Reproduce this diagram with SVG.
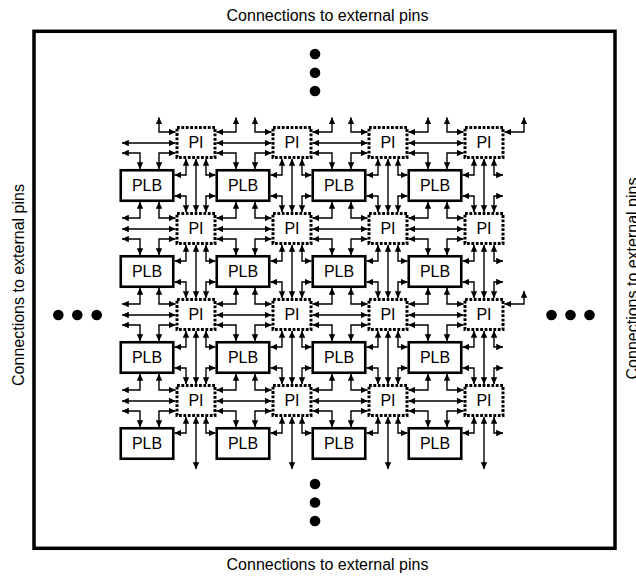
<svg xmlns="http://www.w3.org/2000/svg" width="636" height="576" viewBox="0 0 636 576">
<style>
.t{font-family:"Liberation Sans",Arial,sans-serif;font-size:16px;fill:#000;text-anchor:middle}
.pi{fill:#fff;stroke:#000;stroke-width:3;stroke-dasharray:2.8 1.6}
.plb{fill:#fff;stroke:#000;stroke-width:2.6}
.c path{fill:none;stroke:#000;stroke-width:1.4;marker-start:url(#ah);marker-end:url(#ah)}
.frame{fill:none;stroke:#000;stroke-width:3.5}
</style>
<defs>
<marker id="ah" viewBox="0 0 7 6.6" refX="6.8" refY="3.3" markerWidth="7" markerHeight="6.6" markerUnits="userSpaceOnUse" orient="auto-start-reverse"><path d="M0,0L7,3.3L0,6.6Z" fill="#000"/></marker>
</defs>
<rect width="636" height="576" fill="#fff"/>
<rect class="frame" x="34" y="31.3" width="581" height="517"/>
<text class="t" x="327.5" y="21">Connections to external pins</text>
<text class="t" x="327.5" y="570">Connections to external pins</text>
<text class="t" transform="translate(24,285) rotate(-90)">Connections to external pins</text>
<text class="t" transform="translate(638,278.5) rotate(-90)">Connections to external pins</text>
<g id="dots" fill="#000">
<circle cx="315" cy="54" r="5.3"/><circle cx="315" cy="72.7" r="5.3"/><circle cx="315" cy="91" r="5.3"/>
<circle cx="315" cy="484" r="5.3"/><circle cx="315" cy="502.5" r="5.3"/><circle cx="315" cy="521" r="5.3"/>
<circle cx="58.3" cy="315" r="5.3"/><circle cx="77.3" cy="315" r="5.3"/><circle cx="96.7" cy="315" r="5.3"/>
<circle cx="551.5" cy="315" r="5.3"/><circle cx="570.5" cy="315" r="5.3"/><circle cx="589.5" cy="315" r="5.3"/>
</g>
<g id="connectors" class="c">
<path d="M122,143H175.5"/><path d="M216.5,143H271.5"/><path d="M312.5,143H367.5"/><path d="M408.5,143H463.5"/>
<path d="M122,229H175.5"/><path d="M216.5,229H271.5"/><path d="M312.5,229H367.5"/><path d="M408.5,229H463.5"/>
<path d="M122,315H175.5"/><path d="M216.5,315H271.5"/><path d="M312.5,315H367.5"/><path d="M408.5,315H463.5"/>
<path d="M122,401H175.5"/><path d="M216.5,401H271.5"/><path d="M312.5,401H367.5"/><path d="M408.5,401H463.5"/>
<path d="M236,117.5V132H216.5"/><path d="M332,117.5V132H312.5"/><path d="M428,117.5V132H408.5"/><path d="M524,117.5V132H504.5"/>
<path d="M159,117.5V132H175.5"/><path d="M255,117.5V132H271.5"/><path d="M351,117.5V132H367.5"/><path d="M447,117.5V132H463.5"/>
<path d="M140,202V218H122"/><path d="M236,202V218H216.5"/><path d="M332,202V218H312.5"/><path d="M428,202V218H408.5"/>
<path d="M159,202V218H175.5"/><path d="M255,202V218H271.5"/><path d="M351,202V218H367.5"/><path d="M447,202V218H463.5"/>
<path d="M140,288V304H122"/><path d="M236,288V304H216.5"/><path d="M332,288V304H312.5"/><path d="M428,288V304H408.5"/>
<path d="M159,288V304H175.5"/><path d="M255,288V304H271.5"/><path d="M351,288V304H367.5"/><path d="M447,288V304H463.5"/>
<path d="M524,291V304H504.5"/>
<path d="M140,374V390H122"/><path d="M236,374V390H216.5"/><path d="M332,374V390H312.5"/><path d="M428,374V390H408.5"/>
<path d="M159,374V390H175.5"/><path d="M255,374V390H271.5"/><path d="M351,374V390H367.5"/><path d="M447,374V390H463.5"/>
<path d="M122,153H140V169"/><path d="M216.5,153H236V169"/><path d="M312.5,153H332V169"/><path d="M408.5,153H428V169"/>
<path d="M175.5,153H159V169"/><path d="M271.5,153H255V169"/><path d="M367.5,153H351V169"/><path d="M463.5,153H447V169"/>
<path d="M122,239H140V255"/><path d="M216.5,239H236V255"/><path d="M312.5,239H332V255"/><path d="M408.5,239H428V255"/>
<path d="M175.5,239H159V255"/><path d="M271.5,239H255V255"/><path d="M367.5,239H351V255"/><path d="M463.5,239H447V255"/>
<path d="M122,325H140V341"/><path d="M216.5,325H236V341"/><path d="M312.5,325H332V341"/><path d="M408.5,325H428V341"/>
<path d="M175.5,325H159V341"/><path d="M271.5,325H255V341"/><path d="M367.5,325H351V341"/><path d="M463.5,325H447V341"/>
<path d="M122,411H140V427"/><path d="M216.5,411H236V427"/><path d="M312.5,411H332V427"/><path d="M408.5,411H428V427"/>
<path d="M175.5,411H159V427"/><path d="M271.5,411H255V427"/><path d="M367.5,411H351V427"/><path d="M463.5,411H447V427"/>
<path d="M196,159V212"/><path d="M186,159V175H174.5"/><path d="M206,159V175H215.5"/><path d="M174.5,196H186V212"/><path d="M215.5,196H206V212"/>
<path d="M292,159V212"/><path d="M282,159V175H270.5"/><path d="M302,159V175H311.5"/><path d="M270.5,196H282V212"/><path d="M311.5,196H302V212"/>
<path d="M388,159V212"/><path d="M378,159V175H366.5"/><path d="M398,159V175H407.5"/><path d="M366.5,196H378V212"/><path d="M407.5,196H398V212"/>
<path d="M484,159V212"/><path d="M474,159V175H462.5"/><path d="M494,159V175H503"/><path d="M462.5,196H474V212"/><path d="M503,196H494V212"/>
<path d="M196,245V298"/><path d="M186,245V261H174.5"/><path d="M206,245V261H215.5"/><path d="M174.5,282H186V298"/><path d="M215.5,282H206V298"/>
<path d="M292,245V298"/><path d="M282,245V261H270.5"/><path d="M302,245V261H311.5"/><path d="M270.5,282H282V298"/><path d="M311.5,282H302V298"/>
<path d="M388,245V298"/><path d="M378,245V261H366.5"/><path d="M398,245V261H407.5"/><path d="M366.5,282H378V298"/><path d="M407.5,282H398V298"/>
<path d="M484,245V298"/><path d="M474,245V261H462.5"/><path d="M494,245V261H503"/><path d="M462.5,282H474V298"/><path d="M503,282H494V298"/>
<path d="M196,331V384"/><path d="M186,331V347H174.5"/><path d="M206,331V347H215.5"/><path d="M174.5,368H186V384"/><path d="M215.5,368H206V384"/>
<path d="M292,331V384"/><path d="M282,331V347H270.5"/><path d="M302,331V347H311.5"/><path d="M270.5,368H282V384"/><path d="M311.5,368H302V384"/>
<path d="M388,331V384"/><path d="M378,331V347H366.5"/><path d="M398,331V347H407.5"/><path d="M366.5,368H378V384"/><path d="M407.5,368H398V384"/>
<path d="M484,331V384"/><path d="M474,331V347H462.5"/><path d="M494,331V347H503"/><path d="M462.5,368H474V384"/><path d="M503,368H494V384"/>
<path d="M196,417V469"/><path d="M186,417V433H174.5"/><path d="M206,417V433H215.5"/>
<path d="M292,417V469"/><path d="M282,417V433H270.5"/><path d="M302,417V433H311.5"/>
<path d="M388,417V469"/><path d="M378,417V433H366.5"/><path d="M398,417V433H407.5"/>
<path d="M484,417V469"/><path d="M474,417V433H462.5"/><path d="M494,417V433H503"/>
</g>
<g id="pi-0-0"><rect class="pi" x="177" y="127.5" width="38" height="30"/><text class="t" x="196" y="148.2">PI</text></g>
<g id="pi-0-1"><rect class="pi" x="273" y="127.5" width="38" height="30"/><text class="t" x="292" y="148.2">PI</text></g>
<g id="pi-0-2"><rect class="pi" x="369" y="127.5" width="38" height="30"/><text class="t" x="388" y="148.2">PI</text></g>
<g id="pi-0-3"><rect class="pi" x="465" y="127.5" width="38" height="30"/><text class="t" x="484" y="148.2">PI</text></g>
<g id="pi-1-0"><rect class="pi" x="177" y="213.5" width="38" height="30"/><text class="t" x="196" y="234.2">PI</text></g>
<g id="pi-1-1"><rect class="pi" x="273" y="213.5" width="38" height="30"/><text class="t" x="292" y="234.2">PI</text></g>
<g id="pi-1-2"><rect class="pi" x="369" y="213.5" width="38" height="30"/><text class="t" x="388" y="234.2">PI</text></g>
<g id="pi-1-3"><rect class="pi" x="465" y="213.5" width="38" height="30"/><text class="t" x="484" y="234.2">PI</text></g>
<g id="pi-2-0"><rect class="pi" x="177" y="299.5" width="38" height="30"/><text class="t" x="196" y="320.2">PI</text></g>
<g id="pi-2-1"><rect class="pi" x="273" y="299.5" width="38" height="30"/><text class="t" x="292" y="320.2">PI</text></g>
<g id="pi-2-2"><rect class="pi" x="369" y="299.5" width="38" height="30"/><text class="t" x="388" y="320.2">PI</text></g>
<g id="pi-2-3"><rect class="pi" x="465" y="299.5" width="38" height="30"/><text class="t" x="484" y="320.2">PI</text></g>
<g id="pi-3-0"><rect class="pi" x="177" y="385.5" width="38" height="30"/><text class="t" x="196" y="406.2">PI</text></g>
<g id="pi-3-1"><rect class="pi" x="273" y="385.5" width="38" height="30"/><text class="t" x="292" y="406.2">PI</text></g>
<g id="pi-3-2"><rect class="pi" x="369" y="385.5" width="38" height="30"/><text class="t" x="388" y="406.2">PI</text></g>
<g id="pi-3-3"><rect class="pi" x="465" y="385.5" width="38" height="30"/><text class="t" x="484" y="406.2">PI</text></g>
<g id="plb-0-0"><rect class="plb" x="120.75" y="170.25" width="52.5" height="30.5"/><text class="t" x="147" y="191.3">PLB</text></g>
<g id="plb-0-1"><rect class="plb" x="216.75" y="170.25" width="52.5" height="30.5"/><text class="t" x="243" y="191.3">PLB</text></g>
<g id="plb-0-2"><rect class="plb" x="312.75" y="170.25" width="52.5" height="30.5"/><text class="t" x="339" y="191.3">PLB</text></g>
<g id="plb-0-3"><rect class="plb" x="408.75" y="170.25" width="52.5" height="30.5"/><text class="t" x="435" y="191.3">PLB</text></g>
<g id="plb-1-0"><rect class="plb" x="120.75" y="256.25" width="52.5" height="30.5"/><text class="t" x="147" y="277.3">PLB</text></g>
<g id="plb-1-1"><rect class="plb" x="216.75" y="256.25" width="52.5" height="30.5"/><text class="t" x="243" y="277.3">PLB</text></g>
<g id="plb-1-2"><rect class="plb" x="312.75" y="256.25" width="52.5" height="30.5"/><text class="t" x="339" y="277.3">PLB</text></g>
<g id="plb-1-3"><rect class="plb" x="408.75" y="256.25" width="52.5" height="30.5"/><text class="t" x="435" y="277.3">PLB</text></g>
<g id="plb-2-0"><rect class="plb" x="120.75" y="342.25" width="52.5" height="30.5"/><text class="t" x="147" y="363.3">PLB</text></g>
<g id="plb-2-1"><rect class="plb" x="216.75" y="342.25" width="52.5" height="30.5"/><text class="t" x="243" y="363.3">PLB</text></g>
<g id="plb-2-2"><rect class="plb" x="312.75" y="342.25" width="52.5" height="30.5"/><text class="t" x="339" y="363.3">PLB</text></g>
<g id="plb-2-3"><rect class="plb" x="408.75" y="342.25" width="52.5" height="30.5"/><text class="t" x="435" y="363.3">PLB</text></g>
<g id="plb-3-0"><rect class="plb" x="120.75" y="428.25" width="52.5" height="30.5"/><text class="t" x="147" y="449.3">PLB</text></g>
<g id="plb-3-1"><rect class="plb" x="216.75" y="428.25" width="52.5" height="30.5"/><text class="t" x="243" y="449.3">PLB</text></g>
<g id="plb-3-2"><rect class="plb" x="312.75" y="428.25" width="52.5" height="30.5"/><text class="t" x="339" y="449.3">PLB</text></g>
<g id="plb-3-3"><rect class="plb" x="408.75" y="428.25" width="52.5" height="30.5"/><text class="t" x="435" y="449.3">PLB</text></g>
</svg>
